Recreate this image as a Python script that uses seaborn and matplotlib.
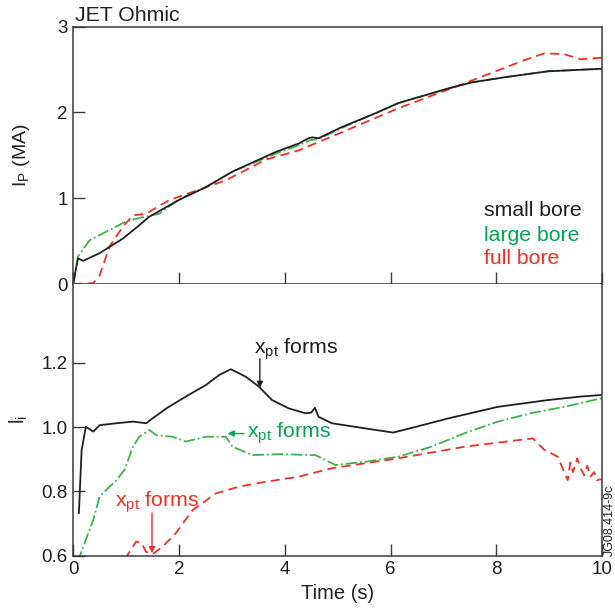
import numpy as np
import pandas as pd
import matplotlib
matplotlib.use("Agg")
import matplotlib.pyplot as plt
import seaborn as sns

# ---------------- data ----------------
# Top panel: plasma current I_P (MA)
ip_small_t = [0.0, 0.09, 0.19, 0.5, 0.94, 1.2, 1.44, 2.0, 2.51, 3.01, 3.83, 4.27, 4.45, 4.52, 4.64,
              5.08, 5.71, 6.15, 7.09, 7.53, 8.15, 8.97, 10.0]
ip_small_v = [0.0, 0.30, 0.27, 0.36, 0.53, 0.66, 0.785, 0.98, 1.13, 1.31, 1.54, 1.64, 1.70, 1.71, 1.70,
              1.83, 1.99, 2.11, 2.28, 2.35, 2.41, 2.48, 2.51]

ip_large_t = [0.0, 0.09, 0.31, 0.69, 1.0, 1.25, 1.63, 2.0, 2.51, 3.01, 3.83, 4.27, 4.5, 4.64,
              5.08, 5.71, 6.15, 7.09, 7.53, 8.15, 8.97, 10.0]
ip_large_v = [0.0, 0.32, 0.51, 0.63, 0.73, 0.77, 0.82, 0.99, 1.13, 1.31, 1.52, 1.62, 1.68, 1.69,
              1.82, 1.99, 2.11, 2.28, 2.35, 2.41, 2.48, 2.51]

ip_full_t = [0.0, 0.38, 0.5, 0.69, 0.94, 1.13, 1.38, 1.82, 2.38, 2.89, 3.64, 4.27, 4.89, 6.15,
             7.4, 8.53, 8.91, 9.28, 9.6, 10.0]
ip_full_v = [0.0, 0.01, 0.10, 0.44, 0.67, 0.80, 0.82, 0.98, 1.10, 1.21, 1.45, 1.56, 1.72, 2.05,
             2.34, 2.61, 2.69, 2.68, 2.62, 2.64]

# Bottom panel: internal inductance l_i
li_small_t = [0.107, 0.16, 0.24, 0.38, 0.5, 0.82, 1.13, 1.38, 1.5, 1.76, 2.13, 2.51, 2.76, 2.98,
              3.26, 3.51, 3.76, 4.08, 4.39, 4.5, 4.57, 4.64, 4.89, 5.52, 6.05, 6.46, 7.09, 8.03,
              8.97, 9.6, 10.0]
li_small_v = [0.732, 0.929, 1.001, 0.986, 1.006, 1.012, 1.017, 1.012, 1.027, 1.058, 1.095, 1.131,
              1.162, 1.180, 1.157, 1.126, 1.084, 1.058, 1.043, 1.045, 1.060, 1.032, 1.012, 0.996,
              0.983, 1.000, 1.027, 1.063, 1.084, 1.095, 1.100]

li_large_t = [0.08, 0.25, 0.38, 0.5, 0.69, 0.82, 0.97, 1.13, 1.25, 1.44, 1.57, 1.88, 2.13, 2.51,
              2.89, 3.01, 3.39, 3.95, 4.45, 4.58, 4.96, 5.52, 6.15, 6.77, 7.4, 8.03, 8.65, 9.28,
              10.0]
li_large_v = [0.58, 0.654, 0.711, 0.784, 0.815, 0.835, 0.867, 0.939, 0.970, 0.991, 0.975, 0.970,
              0.955, 0.970, 0.970, 0.939, 0.913, 0.916, 0.913, 0.913, 0.882, 0.892, 0.908, 0.939,
              0.981, 1.017, 1.043, 1.063, 1.090]

li_full_t = [0.98, 1.19, 1.29, 1.38, 1.5, 1.69, 1.94, 2.26, 2.7, 3.14, 3.64, 4.27, 4.89, 6.15,
             7.4, 8.34, 8.69, 8.91, 9.16, 9.35, 9.4, 9.45, 9.53, 9.6, 9.66, 9.72, 9.78, 9.85,
             9.9, 10.0]
li_full_v = [0.59, 0.644, 0.639, 0.612, 0.605, 0.628, 0.670, 0.742, 0.794, 0.815, 0.830, 0.846,
             0.872, 0.903, 0.939, 0.958, 0.965, 0.929, 0.908, 0.835, 0.890, 0.860, 0.903, 0.870,
             0.850, 0.880, 0.846, 0.860, 0.835, 0.838]

series_names = ["small bore", "large bore", "full bore"]
x_ticks = [0, 2, 4, 6, 8, 10]
ip_ticks = [0, 1, 2, 3]
li_ticks = [0.6, 0.8, 1.0, 1.2]

# ---------------- styling ----------------
sns.set_theme(style="ticks")
plt.rcParams["font.family"] = ["Liberation Sans", "DejaVu Sans"]
plt.rcParams["mathtext.fontset"] = "custom"
plt.rcParams["mathtext.rm"] = "Liberation Sans"
plt.rcParams["mathtext.it"] = "Liberation Sans"

BLACK = "#231f20"
GREEN = "#3cb44b"
GREEN_T = "#00a651"
RED = "#ee3124"
SPINE = "#3a3a3a"
FS = 13.5      # tick labels
FT = 15.3      # in-plot texts

fig = plt.figure(figsize=(6.15, 6.10), dpi=100)
ax1 = fig.add_axes([0.119, 0.5344, 0.860, 0.4218])
ax2 = fig.add_axes([0.119, 0.0890, 0.860, 0.4454])

def df(t, v):
    return pd.DataFrame({"t": t, "v": v})

lw = 1.3
sns.lineplot(data=df(ip_large_t, ip_large_v), x="t", y="v", ax=ax1, color=GREEN,
             linestyle="-.", lw=lw)
sns.lineplot(data=df(ip_full_t, ip_full_v), x="t", y="v", ax=ax1, color=RED,
             linestyle=(0, (5, 3)), lw=lw)
sns.lineplot(data=df(ip_small_t, ip_small_v), x="t", y="v", ax=ax1, color=BLACK,
             linestyle="-", lw=lw)

sns.lineplot(data=df(li_large_t, li_large_v), x="t", y="v", ax=ax2, color=GREEN,
             linestyle="-.", lw=lw)
sns.lineplot(data=df(li_full_t, li_full_v), x="t", y="v", ax=ax2, color=RED,
             linestyle=(0, (5, 3)), lw=lw)
sns.lineplot(data=df(li_small_t, li_small_v), x="t", y="v", ax=ax2, color=BLACK,
             linestyle="-", lw=lw)

for ax in (ax1, ax2):
    ax.set_xlim(0, 10)
    ax.set_xticks(x_ticks)
    for s in ax.spines.values():
        s.set_visible(True)
        s.set_color(SPINE)
        s.set_linewidth(1.1)
    ax.tick_params(direction="in", length=8.5, width=1.0, color=SPINE,
                   labelsize=FS, labelcolor=BLACK, top=False, right=False, pad=4)
    ax.set_xlabel("")

ax1.set_ylim(0, 3)
ax1.set_yticks(ip_ticks)
ax1.set_yticklabels([str(v) for v in ip_ticks])
ax1.tick_params(axis="x", labelbottom=False)
ax1.set_ylabel(r"$\mathregular{I_P}$ (MA)", fontsize=14, color=BLACK, labelpad=18)

ax2.set_ylim(0.6, 1.445)
ax2.set_yticks(li_ticks)
ax2.set_yticklabels([f"{v:.1f}" for v in li_ticks])
ax2.set_xticklabels([str(v) for v in x_ticks])
ax2.set_ylabel(r"$\mathregular{l_i}$", fontsize=14.5, color=BLACK, labelpad=8)
ax2.set_xlabel("Time (s)", fontsize=14.5, color=BLACK, labelpad=4)
ax2.spines["top"].set_visible(False)

# title text
ax1.text(0.003, 1.006, "JET Ohmic", transform=ax1.transAxes, fontsize=FT,
         color=BLACK, ha="left", va="bottom")

# legend-like labels
for name, col, yv in zip(series_names, [BLACK, GREEN_T, RED], [0.86, 0.57, 0.30]):
    ax1.text(7.77, yv, name, color=col, fontsize=FT, ha="left", va="center")

# annotations
xpt = r"$\mathregular{x_{pt}}$ forms"
arr = dict(arrowstyle="-|>", lw=1.0, mutation_scale=9, shrinkA=0, shrinkB=0)
ax2.text(3.42, 1.243, xpt, color=BLACK, fontsize=FT, ha="left", va="center")
ax2.annotate("", xy=(3.53, 1.122), xytext=(3.53, 1.212),
             arrowprops=dict(arr, color=BLACK))
ax2.text(3.29, 0.982, xpt, color=GREEN_T, fontsize=FT, ha="left", va="center")
ax2.annotate("", xy=(2.92, 0.980), xytext=(3.23, 0.980),
             arrowprops=dict(arr, color=GREEN_T))
ax2.text(0.785, 0.767, xpt, color=RED, fontsize=FT, ha="left", va="center")
ax2.annotate("", xy=(1.49, 0.608), xytext=(1.49, 0.733),
             arrowprops=dict(arr, color=RED))

fig.text(0.992, 0.089, "JG08.414-9c", rotation=90, fontsize=9, color=BLACK,
         ha="center", va="bottom")

fig.savefig("out.png", dpi=100, facecolor="white")
